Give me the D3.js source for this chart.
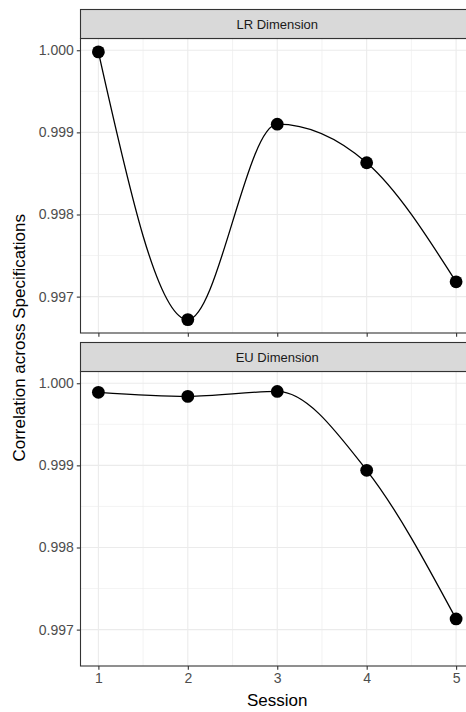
<!DOCTYPE html>
<html>
<head>
<meta charset="utf-8">
<script src="https://cdn.jsdelivr.net/npm/d3@7"></script>
<style>
  html, body { margin: 0; padding: 0; background: #fff; }
  svg { display: block; font-family: "Liberation Sans", Arial, sans-serif; }
</style>
</head>
<body>
<svg id="chart" width="466" height="712"></svg>
<script>
// Sessions on the x axis
const sessions = [1, 2, 3, 4, 5];
// Facet titles
const panels = ["LR Dimension", "EU Dimension"];
// Correlation across specifications per session
const lrValues = [0.99998, 0.99672, 0.99910, 0.99863, 0.99718];
const euValues = [0.99989, 0.99984, 0.99990, 0.99894, 0.99713];
// Axis tick labels
const yTicks = [0.997, 0.998, 0.999, 1.000];
const yMinorTicks = [0.9965, 0.9975, 0.9985, 0.9995];
const xTicks = [1, 2, 3, 4, 5];
const xMinorTicks = [1.5, 2.5, 3.5, 4.5];

const series = [lrValues, euValues];

const svg = d3.select("#chart");

const left = 80.5, right = 474;
const stripH = 29;
const panelBoxes = [
  { stripTop: 9.5, top: 38.5, bottom: 333 },
  { stripTop: 342.5, top: 371.5, bottom: 666 }
];

// shared y domain with 5% padding, like fixed facet scales
const allVals = lrValues.concat(euValues);
const yMin = d3.min(allVals), yMax = d3.max(allVals);
const pad = (yMax - yMin) * 0.05;

const x = d3.scaleLinear().domain([0.8, 5.2]).range([left, right]);

const gridCol = "#EBEBEB";
const axisCol = "#333333";
const tickFont = 14;

panelBoxes.forEach((box, i) => {
  const y = d3.scaleLinear().domain([yMin - pad, yMax + pad]).range([box.bottom, box.top]);
  const g = svg.append("g");

  // panel background
  g.append("rect").attr("x", left).attr("y", box.top)
    .attr("width", right - left).attr("height", box.bottom - box.top)
    .attr("fill", "#fff");

  // minor grid
  g.selectAll(".ymin").data(yMinorTicks.filter(v => y(v) > box.top && y(v) < box.bottom)).enter()
    .append("line").attr("x1", left).attr("x2", right)
    .attr("y1", d => y(d)).attr("y2", d => y(d))
    .attr("stroke", gridCol).attr("stroke-width", 0.6);
  g.selectAll(".xmin").data(xMinorTicks).enter()
    .append("line").attr("y1", box.top).attr("y2", box.bottom)
    .attr("x1", d => x(d)).attr("x2", d => x(d))
    .attr("stroke", gridCol).attr("stroke-width", 0.6);
  // major grid
  g.selectAll(".ymaj").data(yTicks).enter()
    .append("line").attr("x1", left).attr("x2", right)
    .attr("y1", d => y(d)).attr("y2", d => y(d))
    .attr("stroke", gridCol).attr("stroke-width", 1.1);
  g.selectAll(".xmaj").data(xTicks).enter()
    .append("line").attr("y1", box.top).attr("y2", box.bottom)
    .attr("x1", d => x(d)).attr("x2", d => x(d))
    .attr("stroke", gridCol).attr("stroke-width", 1.1);

  // smoothed line through the session values
  const pts = sessions.map((s, k) => [s, series[i][k]]);
  const line = d3.line().x(d => x(d[0])).y(d => y(d[1])).curve(d3.curveMonotoneX);
  g.append("path").datum(pts).attr("d", line)
    .attr("fill", "none").attr("stroke", "#000").attr("stroke-width", 1.3);

  g.selectAll(".pt").data(pts).enter().append("circle")
    .attr("cx", d => x(d[0])).attr("cy", d => y(d[1])).attr("r", 6.4)
    .attr("fill", "#000");

  // panel border
  g.append("rect").attr("x", left).attr("y", box.top)
    .attr("width", right - left).attr("height", box.bottom - box.top)
    .attr("fill", "none").attr("stroke", axisCol).attr("stroke-width", 1.1);

  // y axis
  const yAxis = d3.axisLeft(y).tickValues(yTicks).tickFormat(d3.format(".3f"))
    .tickSize(3.7).tickPadding(3);
  const ya = g.append("g").attr("transform", `translate(${left},0)`).call(yAxis);
  ya.select(".domain").remove();
  ya.selectAll(".tick line").attr("stroke", axisCol).attr("stroke-width", 1.1);
  ya.selectAll(".tick text").attr("fill", "#4D4D4D").attr("font-size", tickFont)
    .attr("font-family", "Liberation Sans, Arial, sans-serif");

  // x axis
  const xAxis = d3.axisBottom(x).tickValues(xTicks).tickFormat(d3.format("d"))
    .tickSize(3.7).tickPadding(3);
  const xa = g.append("g").attr("transform", `translate(0,${box.bottom})`).call(xAxis);
  xa.select(".domain").remove();
  xa.selectAll(".tick line").attr("stroke", axisCol).attr("stroke-width", 1.1);
  xa.selectAll(".tick text").attr("fill", "#4D4D4D").attr("font-size", tickFont)
    .attr("font-family", "Liberation Sans, Arial, sans-serif");
  if (i === 0) xa.selectAll(".tick text").remove();

  // strip
  g.append("rect").attr("x", left).attr("y", box.stripTop)
    .attr("width", right - left).attr("height", stripH)
    .attr("fill", "#D9D9D9").attr("stroke", axisCol).attr("stroke-width", 1.1);
  g.append("text").attr("x", (left + right) / 2).attr("y", box.stripTop + stripH / 2)
    .attr("dy", "0.35em").attr("text-anchor", "middle")
    .attr("font-size", 13).attr("fill", "#1A1A1A").text(panels[i]);
});

// axis titles
svg.append("text").attr("x", (left + right) / 2).attr("y", 706)
  .attr("text-anchor", "middle").attr("font-size", 17).attr("fill", "#000")
  .text("Session");
svg.append("text")
  .attr("transform", `translate(25,${(panelBoxes[0].stripTop + panelBoxes[1].bottom) / 2}) rotate(-90)`)
  .attr("text-anchor", "middle").attr("font-size", 17).attr("fill", "#000")
  .text("Correlation across Specifications");
</script>
</body>
</html>
